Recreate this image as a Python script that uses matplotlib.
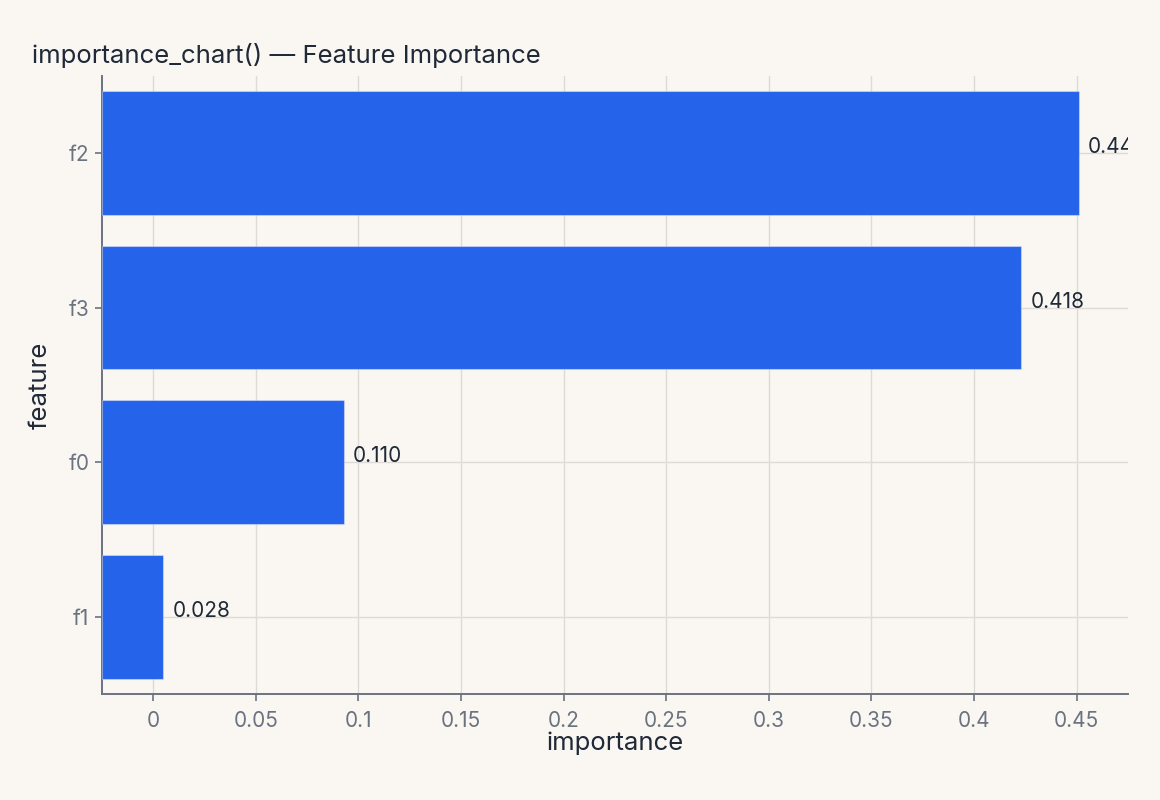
import matplotlib.pyplot as plt
import matplotlib.transforms as mtransforms
from matplotlib.ticker import FuncFormatter
import numpy as np

features = ['f2', 'f3', 'f0', 'f1']
importance = [0.444, 0.418, 0.110, 0.028]
xticks = [0, 0.05, 0.1, 0.15, 0.2, 0.25, 0.3, 0.35, 0.4, 0.45]

BG = '#faf7f2'
BAR = '#2563eb'
TXT = '#1f2937'
MUTED = '#6b7280'
GRID = '#dedad5'

plt.rcParams['font.family'] = ['Inter', 'DejaVu Sans']

fig = plt.figure(figsize=(11.6, 8), dpi=100, facecolor=BG)
W, H = 1160, 800
left, right, top, bottom = 101.8, 1128, 75.7, 694
ax = fig.add_axes([left / W, 1 - bottom / H, (right - left) / W, (bottom - top) / H])
ax.set_facecolor(BG)

y = np.arange(len(features))
ax.set_xlim(-0.025, 0.475)
ax.set_ylim(len(features) - 0.5, -0.5)
ax.set_xticks(xticks)
ax.xaxis.set_major_formatter(FuncFormatter(lambda v, p: f'{v:g}'))
ax.set_yticks(y)
ax.set_yticklabels(features)
ax.grid(True, color=GRID, linewidth=1.0)
ax.set_axisbelow(True)

for s in ['top', 'right']:
    ax.spines[s].set_visible(False)
for s in ['left', 'bottom']:
    ax.spines[s].set_color(MUTED)
    ax.spines[s].set_linewidth(1.4)
ax.tick_params(axis='both', colors=MUTED, labelsize=15, length=5, width=1.2)
ax.tick_params(axis='x', pad=7)
ax.tick_params(axis='y', pad=4)

ax.set_xlabel('importance', fontsize=18.5, color=TXT)
ax.xaxis.set_label_coords(0.5, (bottom - 750) / (bottom - top))
ax.xaxis.label.set_va('baseline')
ax.set_ylabel('feature', fontsize=18.5, color=TXT)
ax.yaxis.set_label_coords((47 - left) / (right - left), 0.5)
ax.yaxis.label.set_va('baseline')

# bars live on their own overlaid scale
ax2 = ax.twiny()
ax2.set_xlim(0, 0.4665)
ax2.set_ylim(len(features) - 0.5, -0.5)
ax2.barh(y, importance, height=0.8, color=BAR,
         edgecolor=(1, 1, 1, 0.35), linewidth=0.8)
ax2.axis('off')

off = mtransforms.offset_copy(ax2.transData, fig=fig, x=9, y=0, units='dots')
for yi, v in zip(y, importance):
    ax2.text(v, yi, f'{v:.3f}', transform=off, fontsize=15, color=TXT,
             va='baseline', ha='left', clip_on=True)

fig.text(32 / W, 1 - 63 / H, 'importance_chart() \u2014 Feature Importance',
         fontsize=18.5, color=TXT, va='baseline', ha='left')

fig.savefig('out.png', dpi=100, facecolor=BG)
